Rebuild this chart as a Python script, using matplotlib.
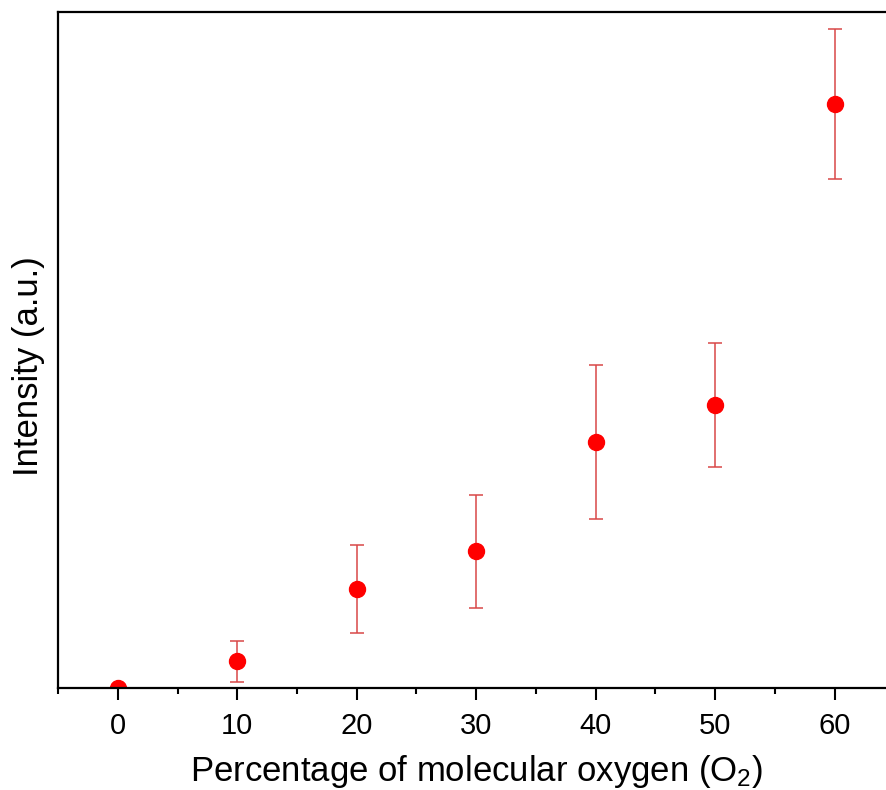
import matplotlib
matplotlib.use("Agg")
import matplotlib.pyplot as plt
from matplotlib.ticker import MultipleLocator

plt.rcParams["font.family"] = ["Liberation Sans", "DejaVu Sans"]
plt.rcParams["mathtext.default"] = "regular"

# Oxygen percentage and measured intensity (arbitrary units)
oxygen = [0, 10, 20, 30, 40, 50, 60]
intensity = [0, 27, 99, 137, 246, 283, 584]
intensity_err = [0, 20.5, 44, 56.5, 77, 62, 75]

fig = plt.figure(figsize=(8.86, 7.9), dpi=100)
ax = fig.add_axes([0.0655, 0.1291, 0.944, 0.8557])

# Error bars first, then the markers on top
ax.errorbar(oxygen, intensity, yerr=intensity_err, fmt="none",
            ecolor="#d84848", elinewidth=1.1, capsize=5, capthick=1.1)
ax.plot(oxygen, intensity, "o", color="#ff0000", markersize=11.5)

ax.set_xlim(-5, 65)
ax.set_ylim(0, 676)

ax.xaxis.set_major_locator(MultipleLocator(10))
ax.xaxis.set_minor_locator(MultipleLocator(5))
ax.set_yticks([])
ax.tick_params(axis="x", which="major", direction="out", length=8.5, width=1.5,
               labelsize=21, pad=9)
ax.tick_params(axis="x", which="minor", direction="out", length=4, width=1.5)

for side in ["left", "bottom", "top", "right"]:
    ax.spines[side].set_linewidth(1.6)

ax.set_xlabel("Percentage of molecular oxygen (O$_2$)", fontsize=25, labelpad=9)
ax.set_ylabel("Intensity (a.u.)", fontsize=25)
ax.yaxis.set_label_coords(-0.015, 0.476)

plt.savefig("out.png", dpi=100)
plt.close()
